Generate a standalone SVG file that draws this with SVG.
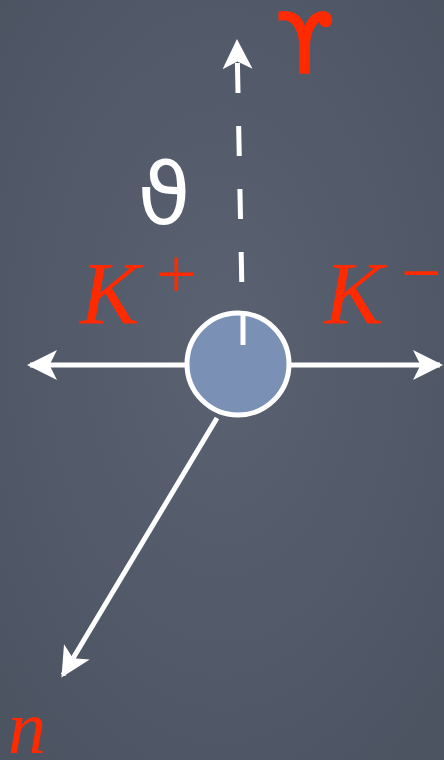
<svg xmlns="http://www.w3.org/2000/svg" width="444" height="760" viewBox="0 0 444 760">
<style>
.lbl{fill:#ff2a00;font-family:"Liberation Serif",serif;font-style:italic}
.ln{stroke:#ffffff;stroke-width:5;fill:none}
</style>
<defs>
<radialGradient id="bg" cx="0.5" cy="0.45" r="0.75">
<stop offset="0" stop-color="#5a6272"/>
<stop offset="1" stop-color="#4b5260"/>
</radialGradient>
<marker id="ah" viewBox="0 0 20 20" refX="18" refY="10" markerWidth="6" markerHeight="6" orient="auto" markerUnits="strokeWidth">
<path d="M0,0 L20,10 L0,20 L5,10 Z" fill="#ffffff"/>
</marker>
</defs>
<rect width="444" height="760" fill="url(#bg)"/>
<g id="connectors">
<line class="ln" x1="243" y1="345" x2="237" y2="42" stroke-dasharray="30,33" marker-end="url(#ah)"/>
<line class="ln" x1="185" y1="365" x2="30" y2="365" marker-end="url(#ah)"/>
<line class="ln" x1="290" y1="365" x2="440" y2="365" marker-end="url(#ah)"/>
<line class="ln" x1="217" y1="418" x2="63" y2="675" marker-end="url(#ah)"/>
</g>
<g id="vertex">
<circle cx="238" cy="364" r="51" fill="#7a90b5" stroke="#ffffff" stroke-width="5"/>
<line class="ln" x1="243" y1="345" x2="243" y2="315"/>
</g>
<g id="upsilon"><text x="305" y="72" font-family="DejaVu Sans,sans-serif" font-size="82" fill="#ff2a00" stroke="#ff2a00" stroke-width="2.5" text-anchor="middle">ϒ</text></g>
<g id="theta"><text x="164" y="224" font-family="DejaVu Sans,sans-serif" font-size="86" fill="#ffffff" text-anchor="middle">ϑ</text></g>
<g id="kplus"><text class="lbl" x="80" y="323" font-size="89">K</text><text x="156" y="298" font-family="Liberation Serif,serif" font-size="72" fill="#ff2a00">+</text></g>
<g id="kminus"><text class="lbl" x="324" y="323" font-size="89">K</text><text x="401" y="297" font-family="Liberation Serif,serif" font-size="72" fill="#ff2a00">−</text></g>
<g id="n"><text class="lbl" x="8" y="753" font-size="76">n</text></g>
</svg>
